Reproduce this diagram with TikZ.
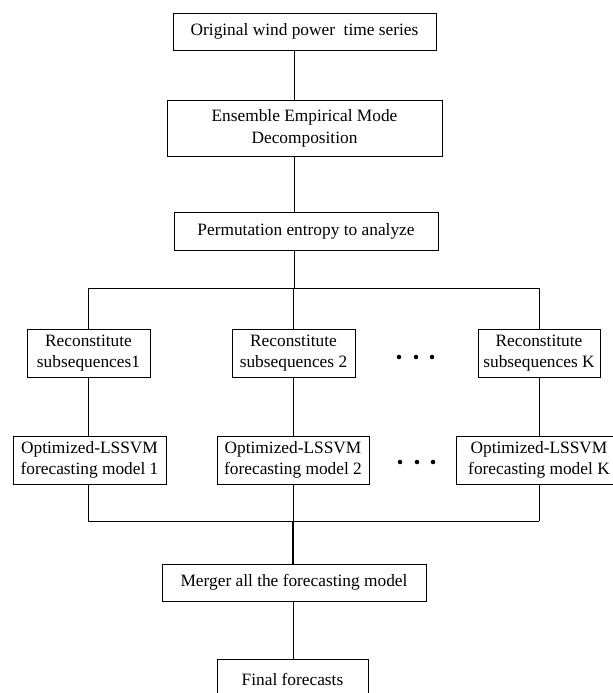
\documentclass[tikz,border=0pt]{standalone}
\usepackage{fontspec}
\setmainfont{Liberation Serif}
\begin{document}
\begin{tikzpicture}[x=0.75pt,y=-0.75pt,
  box/.style={draw,line width=0.75pt,inner sep=0pt,align=center,
    font=\fontsize{13}{16.25}\selectfont},
  link/.style={draw,line width=0.75pt},
  dotmark/.style={circle,fill,inner sep=0pt,minimum size=3.4pt}]
\useasboundingbox (0,0) rectangle (612,693);
% boxes
\node[box,minimum width=197.25pt,minimum height=27.75pt] (b1) at (304.5,31.5) {Original wind power\ \ time series};
\node[box,minimum width=206.25pt,minimum height=42pt] (b2) at (304.5,128) {Ensemble Empirical Mode\\Decomposition};
\node[box,minimum width=198pt,minimum height=28.5pt] (b3) at (306,231) {Permutation entropy to analyze};
\node[box,minimum width=92.25pt,minimum height=36pt] (r1) at (88.5,353) {Reconstitute\\subsequences1};
\node[box,minimum width=92.25pt,minimum height=36pt] (r2) at (293.5,353) {Reconstitute\\subsequences 2};
\node[box,minimum width=91.5pt,minimum height=36pt] (rK) at (539,353) {Reconstitute\\subsequences K};
\node[box,minimum width=114.75pt,minimum height=36pt] (o1) at (89.5,460) {Optimized-LSSVM\\forecasting model 1};
\node[box,minimum width=114pt,minimum height=36pt] (o2) at (293,460) {Optimized-LSSVM\\forecasting model 2};
\node[box,minimum width=124.5pt,minimum height=36pt] (oK) at (539,460) {Optimized-LSSVM\\forecasting model K};
\node[box,minimum width=198pt,minimum height=27.75pt] (m) at (294,582.5) {Merger all the forecasting model};
\node[box,minimum width=113.25pt,minimum height=30pt] (f) at (292.5,679) {Final forecasts};
% routing coordinates
\coordinate (sp) at (294,0);
\coordinate (c1) at (88,0);
\coordinate (c2) at (293,0);
\coordinate (cK) at (539,0);
\coordinate (top) at (0,288);
\coordinate (bot) at (0,521);
% connectors
\draw[link] (b1.south -| sp) -- (b2.north -| sp);
\draw[link] (b2.south -| sp) -- (b3.north -| sp);
\draw[link] (b3.south -| sp) -- (top -| sp);
\draw[link] (top -| c1) -- (top -| cK);
\draw[link] (top -| c1) -- (r1.north -| c1);
\draw[link] (top -| c2) -- (r2.north -| c2);
\draw[link] (top -| cK) -- (rK.north -| cK);
\draw[link] (r1.south -| c1) -- (o1.north -| c1);
\draw[link] (r2.south -| c2) -- (o2.north -| c2);
\draw[link] (rK.south -| cK) -- (oK.north -| cK);
\draw[link] (o1.south -| c1) -- (bot -| c1);
\draw[link] (o2.south -| c2) -- (bot -| c2);
\draw[link] (oK.south -| cK) -- (bot -| cK);
\draw[link] (bot -| c1) -- (bot -| cK);
\draw[link,line width=1pt] (bot -| c2) -- (m.north -| c2);
\draw[link] (m.south -| c2) -- (f.north -| c2);
% ellipsis dots
\foreach \xx in {399,416,432} \node[dotmark] at (\xx,357) {};
\foreach \xx in {400,417,433} \node[dotmark] at (\xx,462) {};
\end{tikzpicture}
\end{document}
